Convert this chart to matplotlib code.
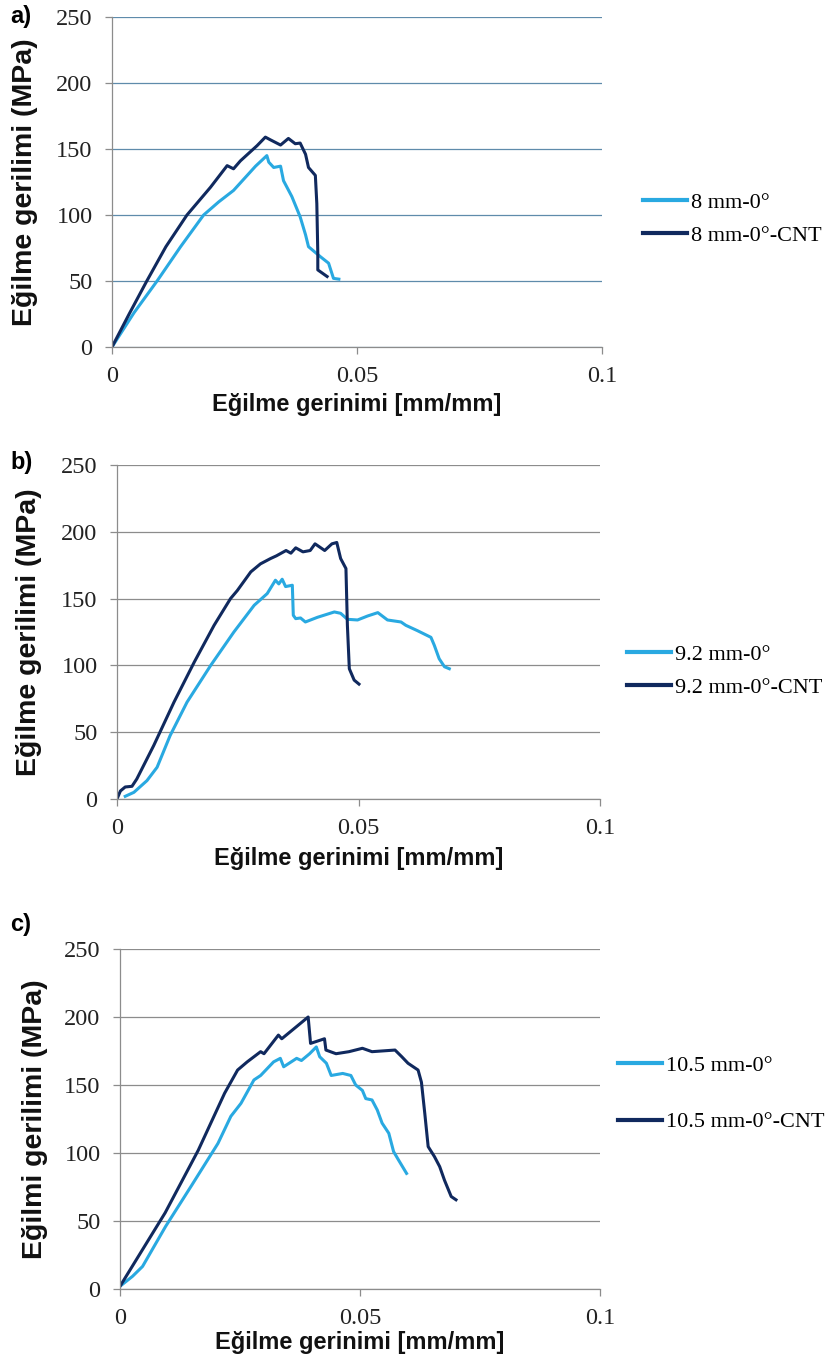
import matplotlib
matplotlib.use("Agg")
import matplotlib.pyplot as plt

# ---------------- data ----------------
panel_labels = ["a)", "b)", "c)"]
ylabels = ["Eğilme gerilimi (MPa)", "Eğilme gerilimi (MPa)", "Eğilmi gerilimi (MPa)"]
xlabel = "Eğilme gerinimi [mm/mm]"
xticks = [0, 0.05, 0.1]
xtick_labels = ["0", "0.05", "0.1"]
yticks = [0, 50, 100, 150, 200, 250]

a_names = ["8 mm-0°", "8 mm-0°-CNT"]
a_plain_x = [0, 0.0045, 0.0092, 0.014, 0.0187, 0.0218, 0.0248, 0.0293, 0.0316, 0.032, 0.033,
             0.0344, 0.035, 0.0367, 0.0384, 0.0395, 0.0401, 0.0425, 0.0442, 0.0452, 0.0463]
a_plain_y = [0, 26, 50, 76, 100, 110, 118.6, 137, 145, 140, 136,
             137, 126, 114, 98.6, 85, 76, 68.5, 63.5, 52, 51.4]
a_cnt_x = [0, 0.0035, 0.0071, 0.011, 0.0153, 0.0201, 0.0235, 0.0248, 0.0262, 0.0296, 0.0313,
           0.0323, 0.0344, 0.036, 0.0374, 0.0384, 0.0395, 0.0401, 0.0415, 0.0418, 0.042,
           0.042, 0.0439]
a_cnt_y = [0, 25, 50, 76, 100, 121, 137.4, 135, 141, 152.5, 159,
           157, 153, 158, 154, 154.5, 146, 136, 130, 108.6, 71,
           58.4, 53.4]

b_names = ["9.2 mm-0°", "9.2 mm-0°-CNT"]
b_plain_x = [0.0017, 0.0035, 0.0062, 0.0083, 0.011, 0.0145, 0.0194, 0.0242, 0.0284, 0.0311,
             0.0328, 0.0335, 0.0342, 0.0349, 0.0363, 0.0365, 0.037, 0.038, 0.039, 0.0415,
             0.045, 0.0463, 0.0477, 0.0498, 0.0519, 0.054, 0.056, 0.0588, 0.0598, 0.0622,
             0.065, 0.0657, 0.0667, 0.0678, 0.0688]
b_plain_y = [2, 5, 13.75, 23.75, 47.5, 72.5, 100, 125, 145, 153.75,
             163.75, 161, 164.5, 159, 160, 137.5, 135, 135.5, 132.5, 136,
             140, 139, 134.5, 134, 137, 139.5, 134, 132.5, 130, 126,
             121, 115, 105, 99, 97.5]
b_cnt_x = [0, 0.0007, 0.0017, 0.0031, 0.0041, 0.0076, 0.0118, 0.016, 0.0201, 0.0235, 0.0249,
           0.0277, 0.0297, 0.0318, 0.033, 0.035, 0.036, 0.037, 0.0385, 0.04, 0.041, 0.043,
           0.0445, 0.0455, 0.0463, 0.0474, 0.0477, 0.0481, 0.0491, 0.0501]
b_cnt_y = [0, 6, 9, 9.5, 15, 40, 72.5, 102.5, 130, 150, 156,
           170, 176, 180, 182, 186, 184, 188, 185, 186, 191, 186,
           191, 192, 180, 172.5, 130, 97.5, 89, 86]

c_names = ["10.5 mm-0°", "10.5 mm-0°-CNT"]
c_plain_x = [0, 0.0026, 0.0047, 0.0095, 0.015, 0.0204, 0.0231, 0.0252, 0.0279, 0.0293, 0.032,
             0.0334, 0.0341, 0.0368, 0.0378, 0.0395, 0.0409, 0.0416, 0.043, 0.044, 0.0464,
             0.0481, 0.0491, 0.0505, 0.0512, 0.0525, 0.0536, 0.0546, 0.056, 0.057, 0.058, 0.0597]
c_plain_y = [2, 9.3, 16.6, 46, 76.6, 107, 127, 136.5, 153.7, 157, 167,
             169.6, 163.4, 169.6, 168, 173, 178, 170.8, 166, 157, 158.5,
             157, 150, 146, 140, 139, 131.6, 122, 114.5, 101, 95, 85]
c_cnt_x = [0, 0.0094, 0.0163, 0.0218, 0.0245, 0.0265, 0.0293, 0.03, 0.033, 0.0337, 0.0368,
           0.0392, 0.0397, 0.0409, 0.0426, 0.0429, 0.045, 0.0477, 0.0505, 0.0525, 0.0573,
           0.0587, 0.06, 0.0621, 0.0628, 0.0635, 0.0642, 0.0655, 0.0666, 0.0676, 0.069, 0.07]
c_cnt_y = [2, 56, 102, 144, 161, 167, 174.5, 173, 186.7, 184, 193,
           200, 180.6, 182, 184, 175.7, 173, 174.5, 177, 174.5, 175.7,
           170.8, 166, 161, 152, 129, 104.7, 97.4, 90, 80, 68, 65.6]

# ---------------- styling ----------------
W, H = 835, 1362
LIGHT = "#29a9e1"
DARK = "#10295e"
plt.rcParams["font.family"] = ["Liberation Serif", "DejaVu Serif"]

fig = plt.figure(figsize=(W / 100, H / 100), dpi=100)

# axes boxes in pixels: left, right, top, bottom
boxes = [(112, 602, 17, 347), (117, 600, 465, 799), (120, 600, 949, 1289)]
grid_colors = ["#5f8bab", "#8c8c8c", "#8c8c8c"]
ylabel_px = [38, 42, 48]
xlabel_below = [57, 60, 53]
panel_lab_pos = [(10, 17), (10, 462), (10, 925)]
legend_centers = [219, 671, 1094]
legend_x = [643, 627, 618]
legend_spacing = [0.55, 0.55, 1.6]

series = [
    (a_plain_x, a_plain_y, a_cnt_x, a_cnt_y, a_names),
    (b_plain_x, b_plain_y, b_cnt_x, b_cnt_y, b_names),
    (c_plain_x, c_plain_y, c_cnt_x, c_cnt_y, c_names),
]

for i, (l, r, t, b) in enumerate(boxes):
    ax = fig.add_axes([l / W, 1 - b / H, (r - l) / W, (b - t) / H])
    px, py, cx, cy, names = series[i]
    ax.plot(px, py, color=LIGHT, lw=2.2, label=names[0], solid_joinstyle="round")
    ax.plot(cx, cy, color=DARK, lw=2.2, label=names[1], solid_joinstyle="round")
    ax.set_xlim(0, 0.1)
    ax.set_ylim(0, 250)
    ax.set_xticks(xticks)
    ax.set_xticklabels(xtick_labels)
    ax.set_yticks(yticks)
    ax.yaxis.grid(True, color=grid_colors[i], lw=0.9)
    ax.set_axisbelow(True)
    for s in ["top", "right"]:
        ax.spines[s].set_visible(False)
    for s in ["left", "bottom"]:
        ax.spines[s].set_color("#8c8c8c")
        ax.spines[s].set_linewidth(0.9)
    ax.tick_params(axis="both", direction="out", length=5, width=0.9, color="#8c8c8c",
                   labelsize=17.5, labelcolor="#222222")
    ax.tick_params(axis="y", pad=9)
    ax.tick_params(axis="x", pad=9)
    wpx, hpx = r - l, b - t
    ax.set_ylabel(ylabels[i], fontsize=20.5, fontweight="bold",
                  family=["Liberation Sans", "DejaVu Sans"], color="#111111")
    ax.yaxis.set_label_coords((ylabel_px[i] - l) / wpx, 0.5)
    ax.set_xlabel(xlabel, fontsize=17, fontweight="bold",
                  family=["Liberation Sans", "DejaVu Sans"], color="#111111")
    ax.xaxis.set_label_coords(0.5, -xlabel_below[i] / hpx)
    ax.xaxis.label.set_va("center")
    fig.text(panel_lab_pos[i][0] / W, 1 - panel_lab_pos[i][1] / H, panel_labels[i],
             fontsize=17, fontweight="bold", family=["Liberation Sans", "DejaVu Sans"],
             va="center", ha="left")
    ax.legend(loc="center left", bbox_to_anchor=(legend_x[i] / W, 1 - legend_centers[i] / H),
              bbox_transform=fig.transFigure, frameon=False, fontsize=16,
              handlelength=2.0, handletextpad=0.15, borderpad=0, borderaxespad=0,
              labelspacing=legend_spacing[i])
    for line in ax.get_legend().get_lines():
        line.set_linewidth(3)

fig.savefig("out.png", dpi=100)
